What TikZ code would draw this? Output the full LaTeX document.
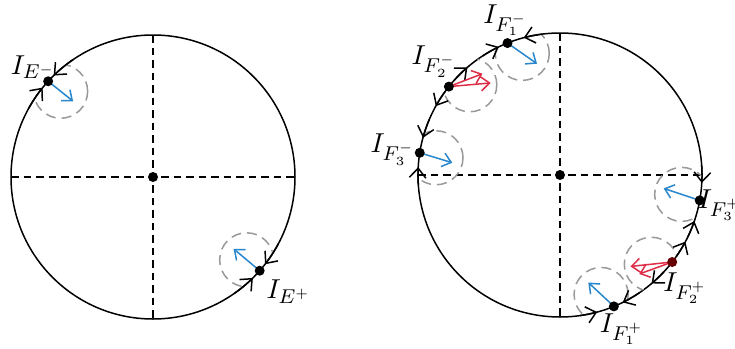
\documentclass[tikz,border=0pt]{standalone}
\usepackage{amsmath,amssymb}
\usepackage{tikz}
\usetikzlibrary{calc,arrows.meta}
\definecolor{vecblue}{RGB}{40,134,204}
\definecolor{vecred}{RGB}{222,45,70}
\begin{document}
\begin{tikzpicture}[x=0.4pt,y=0.4pt,
  orbit/.style={line width=0.6pt},
  axis/.style={line width=0.5pt,dash pattern=on 3pt off 2pt},
  halo/.style={black!40,line width=0.6pt,dash pattern=on 4pt off 2.4pt},
  flowtip/.style={-{Straight Barb[length=3.8pt,width=6.6pt]},line width=0.6pt},
  bluevec/.style={vecblue,line width=0.6pt,-{Straight Barb[length=3.4pt,width=5.6pt]}},
  redvec/.style={vecred,line width=0.6pt,-{Straight Barb[length=3.4pt,width=5.6pt]}},
  pointlabel/.style={inner sep=0.5pt,font=\fontsize{11}{13}\selectfont}]
  \useasboundingbox (0,0) rectangle (735,-348);
  %左の円
  \coordinate (Cl) at (153,-177);
  \coordinate (Em) at ($(Cl)+(137.6:142)$);
  \coordinate (Ep) at ($(Cl)+(-41.3:142)$);
  \coordinate (vEm) at ($(Em)+(-38.7:32)$);
  \coordinate (vEp) at ($(Ep)+(140:34)$);
  \path[draw,orbit](Cl)circle[radius=142];
  \path[draw,axis]($(Cl)+(180:142)$)to($(Cl)+(0:142)$);
  \path[draw,axis]($(Cl)+(90:142)$)to($(Cl)+(-90:142)$);
  \begin{scope}
    \clip(Cl)circle[radius=142];
    \path[draw,halo]($(Em)!0.5!(vEm)$)circle[radius=27];
    \path[draw,halo]($(Ep)!0.5!(vEp)$)circle[radius=27];
  \end{scope}
  %流れの向き
  \foreach \from/\tip in {124/134.4,151/141,-28/-37.9,-55/-45.3}
    \draw[flowtip]($(Cl)+(\from:142)$)arc[start angle=\from,end angle=\tip,radius=142];
  \path[draw,bluevec](Em)to(vEm);
  \path[draw,bluevec](Ep)to(vEp);
  \fill(Cl)circle(2pt);
  \fill(Em)circle(2pt);
  \fill(Ep)circle(2pt);
  \node[pointlabel](lEm)at($(Em)+(-15,14)$){$I_{E^-}$};
  \node[pointlabel](lEp)at($(Ep)+(29,-21)$){$I_{E^+}$};
  %右の円
  \coordinate (Cr) at (560,-175);
  \coordinate (Fam) at ($(Cr)+(111.7:142)$);
  \coordinate (Fbm) at ($(Cr)+(141.5:142)$);
  \coordinate (Fcm) at ($(Cr)+(171:142)$);
  \coordinate (Fap) at ($(Cr)+(-67.7:142)$);
  \coordinate (Fbp) at ($(Cr)+(-37.8:142)$);
  \coordinate (Fcp) at ($(Cr)+(-10.3:142)$);
  \coordinate (vFam) at ($(Fam)+(-35:36)$);
  \coordinate (vFcm) at ($(Fcm)+(-17:34)$);
  \coordinate (vFap) at ($(Fap)+(137:35)$);
  \coordinate (vFcp) at ($(Fcp)+(161.6:38)$);
  \coordinate (rFbm) at ($(Fbm)+(5:42)$);
  \coordinate (sFbm) at ($(Fbm)+(21:36)$);
  \coordinate (rFbp) at ($(Fbp)+(186:42)$);
  \coordinate (sFbp) at ($(Fbp)+(200:35)$);
  \path[draw,orbit](Cr)circle[radius=142];
  \path[draw,axis]($(Cr)+(180:142)$)to($(Cr)+(0:142)$);
  \path[draw,axis]($(Cr)+(90:142)$)to($(Cr)+(-90:142)$);
  \begin{scope}
    \clip(Cr)circle[radius=142];
    \path[draw,halo]($(Fam)!0.5!(vFam)$)circle[radius=27];
    \path[draw,halo]($(Fbm)!0.5!(rFbm)$)circle[radius=27];
    \path[draw,halo]($(Fcm)!0.5!(vFcm)$)circle[radius=27];
    \path[draw,halo]($(Fap)!0.5!(vFap)$)circle[radius=27];
    \path[draw,halo]($(Fbp)!0.5!(rFbp)$)circle[radius=27];
    \path[draw,halo]($(Fcp)!0.5!(vFcp)$)circle[radius=27];
  \end{scope}
  %流れの向き
  \foreach \from/\tip in {97/104.8,123/115.5,138/130.7,144/151,157/164.8,184/176.8,
      4/-3.2,-26/-18.9,-35/-28,-43/-49.8,-56/-63.8,-82/-74.8}
    \draw[flowtip]($(Cr)+(\from:142)$)arc[start angle=\from,end angle=\tip,radius=142];
  %ベクトル
  \path[draw,bluevec](Fam)to(vFam);
  \path[draw,bluevec](Fcm)to(vFcm);
  \path[draw,bluevec](Fap)to(vFap);
  \path[draw,bluevec](Fcp)to(vFcp);
  \path[draw,redvec](Fbm)to(rFbm);
  \path[draw,redvec](Fbm)to(sFbm);
  \path[draw,redvec](Fbp)to(rFbp);
  \path[draw,redvec](Fbp)to(sFbp);
  \fill(Cr)circle(2pt);
  \fill(Fam)circle(2pt);
  \fill(Fbm)circle(2pt);
  \fill(Fcm)circle(2pt);
  \fill(Fap)circle(2pt);
  \fill[black!60!red](Fbp)circle(2pt);
  \fill(Fcp)circle(2pt);
  \node[pointlabel](lFam)at($(Fam)+(-2,23)$){$I_{F_1^-}$};
  \node[pointlabel](lFbm)at($(Fbm)+(-15,25)$){$I_{F_2^-}$};
  \node[pointlabel](lFcm)at($(Fcm)+(-27,3)$){$I_{F_3^-}$};
  \node[pointlabel](lFap)at($(Fap)+(8,-23)$){$I_{F_1^+}$};
  \node[pointlabel](lFbp)at($(Fbp)+(13,-26)$){$I_{F_2^+}$};
  \node[pointlabel](lFcp)at($(Fcp)+(20,-5)$){$I_{F_3^+}$};
\end{tikzpicture}
\end{document}
